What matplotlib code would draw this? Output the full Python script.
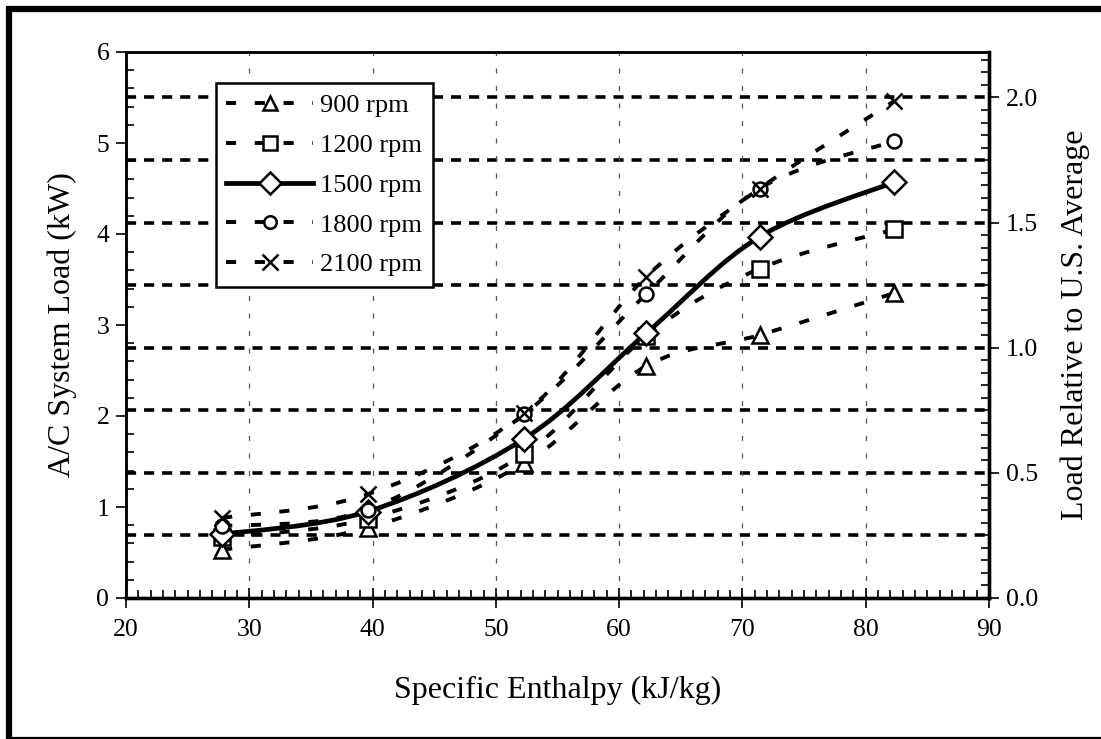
import matplotlib
matplotlib.use("Agg")
import matplotlib.pyplot as plt
import numpy as np
from matplotlib.path import Path
from matplotlib.patches import PathPatch
from matplotlib.lines import Line2D
from matplotlib.ticker import MultipleLocator, FormatStrFormatter

plt.rcParams['font.family'] = ['Liberation Serif', 'DejaVu Serif']

enthalpy = [27.8, 39.6, 52.3, 62.2, 71.4, 82.3]
load_900 = [0.53, 0.77, 1.48, 2.55, 2.89, 3.35]
load_1200 = [0.67, 0.87, 1.58, 2.88, 3.62, 4.05]
load_1500 = [0.70, 0.95, 1.75, 2.91, 3.97, 4.57]
load_1800 = [0.79, 0.97, 2.02, 3.34, 4.50, 5.02]
load_2100 = [0.88, 1.14, 2.03, 3.53, 4.50, 5.46]
labels = ['900 rpm', '1200 rpm', '1500 rpm', '1800 rpm', '2100 rpm']
markers = ['^', 's', 'D', 'o', 'x']
us_average = 2.75  # kW that equals 1.0 on the right axis


def smooth_path(x, y):
    # excel-like smoothed line: bezier segments through the points
    x = np.asarray(x, float)
    y = np.asarray(y, float)
    n = len(x)
    verts = [(x[0], y[0])]
    codes = [Path.MOVETO]
    for i in range(n - 1):
        i0 = max(i - 1, 0)
        i3 = min(i + 2, n - 1)
        c1 = (x[i] + (x[i + 1] - x[i0]) / 6, y[i] + (y[i + 1] - y[i0]) / 6)
        c2 = (x[i + 1] - (x[i3] - x[i]) / 6, y[i + 1] - (y[i3] - y[i]) / 6)
        verts += [c1, c2, (x[i + 1], y[i + 1])]
        codes += [Path.CURVE4] * 3
    return Path(verts, codes)


fig = plt.figure(figsize=(11.01, 7.39), dpi=100)
ax = fig.add_axes([126 / 1101, 1 - 598 / 739, (989 - 126) / 1101, (598 - 52) / 739])
ax2 = ax.twinx()

ax.set_xlim(20, 90)
ax.set_ylim(0, 6)
ax2.set_ylim(0, 6 / us_average)

# grid lines
for gx in range(30, 90, 10):
    ax.axvline(gx, color='#555555', lw=0.9, ls=(0, (4, 10)), zorder=1)
for gy in np.arange(0.25, 2.01, 0.25):
    ax2.axhline(gy, color='black', lw=2.6, ls=(0, (2.8, 2.2)), zorder=1)

series = [load_900, load_1200, load_1500, load_1800, load_2100]
handles = []
for vals, lab, mk in zip(series, labels, markers):
    solid = lab == '1500 rpm'
    ls = '-' if solid else (0, (2.6, 4.8))
    lw = 3.4 if solid else 2.8
    patch = PathPatch(smooth_path(enthalpy, vals), fill=False, edgecolor='black',
                      lw=lw, ls=ls, zorder=3, capstyle='butt')
    ax.add_patch(patch)
    ms = {'^': 11, 's': 11, 'D': 12, 'o': 10, 'x': 12}[mk]
    ax.plot(enthalpy, vals, ls='none', marker=mk, ms=ms, mfc='white', mec='black',
            mew=1.8, zorder=4)
    handles.append(Line2D([], [], color='black', lw=lw, ls=ls, marker=mk, ms=ms - 1,
                          mfc='white', mec='black', mew=1.8))

ax.set_zorder(ax2.get_zorder() + 1)
ax.patch.set_visible(False)

# ticks
ax.xaxis.set_major_locator(MultipleLocator(10))
ax.xaxis.set_minor_locator(MultipleLocator(1))
ax.yaxis.set_major_locator(MultipleLocator(1))
ax.yaxis.set_minor_locator(MultipleLocator(0.2))
ax2.yaxis.set_major_locator(MultipleLocator(0.5))
ax2.yaxis.set_minor_locator(MultipleLocator(0.05))
ax2.yaxis.set_major_formatter(FormatStrFormatter('%.1f'))

ax.tick_params(axis='x', which='major', direction='inout', length=14, width=1.2,
               labelsize=18.5, pad=8, top=False)
ax.tick_params(axis='x', which='minor', direction='in', length=6, width=1.2, top=False)
ax.tick_params(axis='y', which='major', direction='out', length=7, width=1.2,
               labelsize=18.5, pad=5, right=False)
ax.tick_params(axis='y', which='minor', direction='in', length=6, width=1.2, right=False)
ax2.tick_params(axis='y', which='major', direction='out', length=7, width=1.2,
                labelsize=18.5, pad=5)
ax2.tick_params(axis='y', which='minor', direction='in', length=6, width=1.2)

for a in (ax, ax2):
    a.spines['left'].set_linewidth(1.8)
    a.spines['bottom'].set_linewidth(2.4)
    a.spines['right'].set_linewidth(2.4)
    a.spines['top'].set_linewidth(1.8)

ax.set_xlabel('Specific Enthalpy (kJ/kg)', fontsize=23, labelpad=25)
ax.set_ylabel('A/C System Load (kW)', fontsize=23, labelpad=14)
ax2.set_ylabel('Load Relative to U.S. Average', fontsize=23, labelpad=16)

leg = ax.legend(handles, labels, loc='upper left', bbox_to_anchor=(0.104, 0.943),
                fontsize=19, frameon=True, fancybox=False, framealpha=1,
                handlelength=3.3, handletextpad=0.25, labelspacing=0.62,
                borderpad=0.4, borderaxespad=0)
leg.get_frame().set_edgecolor('black')
leg.get_frame().set_linewidth(1.8)
leg.set_zorder(10)

# frame of the chart area: thick top and left, thin bottom
fig.add_artist(Line2D([6 / 1101, 1], [1 - 9 / 739] * 2, transform=fig.transFigure,
                      color='black', lw=4.5, solid_capstyle='butt'))
fig.add_artist(Line2D([9 / 1101] * 2, [0, 1 - 6 / 739], transform=fig.transFigure,
                      color='black', lw=4.5, solid_capstyle='butt'))
fig.add_artist(Line2D([6 / 1101, 1], [1.5 / 739] * 2, transform=fig.transFigure,
                      color='black', lw=1.6, solid_capstyle='butt'))

fig.savefig('out.png', dpi=100)
